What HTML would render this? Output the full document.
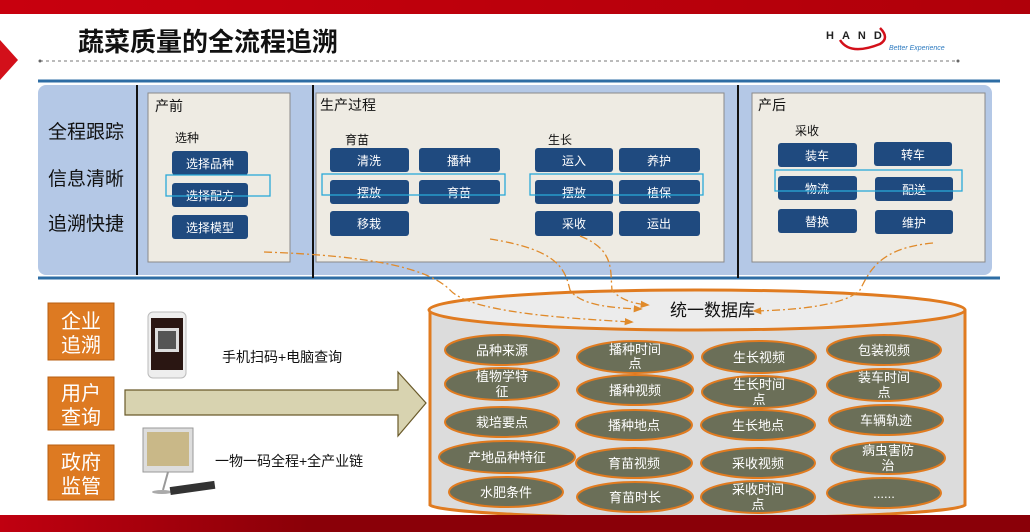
<!DOCTYPE html>
<html><head><meta charset="utf-8"><style>
body{margin:0;width:1030px;height:532px;overflow:hidden;background:#fff;font-family:"Liberation Sans","Noto Sans CJK SC",sans-serif;}
svg{display:block}
</style></head><body>
<svg width="1030" height="532" viewBox="0 0 1030 532" xmlns="http://www.w3.org/2000/svg" font-family="Liberation Sans, Noto Sans CJK SC, sans-serif">
<defs>
<linearGradient id="rt" x1="0" x2="1"><stop offset="0" stop-color="#c8000e"/><stop offset="1" stop-color="#b0000a"/></linearGradient>
<linearGradient id="rb" x1="0" x2="1"><stop offset="0" stop-color="#c00010"/><stop offset="0.3" stop-color="#8a0008"/><stop offset="1" stop-color="#8a0008"/></linearGradient>
<marker id="ar" viewBox="0 0 10 10" refX="8" refY="5" markerWidth="7" markerHeight="7" orient="auto"><path d="M0,1 L10,5 L0,9 z" fill="#e08a2a"/></marker>
</defs>
<rect x="0" y="0" width="1030" height="14" fill="url(#rt)"/>
<polygon points="0,40 18,60 0,80" fill="#d3101a"/>
<text x="78" y="51" font-size="26" font-weight="bold" fill="#111">蔬菜质量的全流程追溯</text>
<line x1="40" y1="61" x2="958" y2="61" stroke="#777" stroke-width="1" stroke-dasharray="3,3"/>
<circle cx="40" cy="61" r="1.5" fill="#666"/><circle cx="958" cy="61" r="1.5" fill="#666"/>
<text x="826" y="39" font-size="11" letter-spacing="8" fill="#222" font-weight="bold">HAND</text>
<path d="M840,40 Q850,56 880,44 Q890,38 880,28" fill="none" stroke="#d3101a" stroke-width="2.5"/>
<text x="889" y="50" font-size="7" fill="#2e7bc0" font-style="italic">Better Experience</text>

<line x1="38" y1="81" x2="1000" y2="81" stroke="#2e6da4" stroke-width="3"/>
<rect x="38" y="85" width="954" height="190" rx="8" fill="#b4c8e6"/>
<line x1="38" y1="278" x2="1000" y2="278" stroke="#2e6da4" stroke-width="3"/>
<line x1="137" y1="85" x2="137" y2="275" stroke="#111" stroke-width="2"/>
<line x1="313" y1="85" x2="313" y2="278" stroke="#111" stroke-width="2"/>
<line x1="738" y1="85" x2="738" y2="278" stroke="#111" stroke-width="2"/>
<g font-size="19" fill="#111">
<text x="48" y="138">全程跟踪</text><text x="48" y="185">信息清晰</text><text x="48" y="230">追溯快捷</text>
</g>
<g fill="#eeebe3" stroke="#8a8a8a" stroke-width="1">
<rect x="148" y="93" width="142" height="169"/>
<rect x="316" y="93" width="408" height="169"/>
<rect x="752" y="93" width="233" height="169"/>
</g>
<g font-size="14" fill="#111">
<text x="155" y="111">产前</text><text x="320" y="110">生产过程</text><text x="758" y="110">产后</text>
</g>
<g font-size="12" fill="#111">
<text x="175" y="142">选种</text><text x="345" y="144">育苗</text><text x="548" y="144">生长</text><text x="795" y="135">采收</text>
</g>
<g fill="#1f4a7f">
<rect x="172" y="151" width="76" height="24" rx="3"/><rect x="172" y="183" width="76" height="24" rx="3"/><rect x="172" y="215" width="76" height="24" rx="3"/>
<rect x="330" y="148" width="79" height="24" rx="3"/><rect x="419" y="148" width="81" height="24" rx="3"/>
<rect x="330" y="180" width="79" height="24" rx="3"/><rect x="419" y="180" width="81" height="24" rx="3"/>
<rect x="330" y="211" width="79" height="25" rx="3"/>
<rect x="535" y="148" width="78" height="24" rx="3"/><rect x="619" y="148" width="81" height="24" rx="3"/>
<rect x="535" y="180" width="78" height="24" rx="3"/><rect x="619" y="180" width="81" height="24" rx="3"/>
<rect x="535" y="211" width="78" height="25" rx="3"/><rect x="619" y="211" width="81" height="25" rx="3"/>
<rect x="778" y="143" width="79" height="24" rx="3"/><rect x="874" y="142" width="78" height="24" rx="3"/>
<rect x="778" y="176" width="79" height="24" rx="3"/><rect x="875" y="177" width="78" height="24" rx="3"/>
<rect x="778" y="209" width="79" height="24" rx="3"/><rect x="875" y="210" width="78" height="24" rx="3"/>
</g>
<g font-size="12" fill="#fff" text-anchor="middle">
<text x="210" y="168">选择品种</text><text x="210" y="200">选择配方</text><text x="210" y="232">选择模型</text>
<text x="369" y="165">清洗</text><text x="459" y="165">播种</text><text x="369" y="197">摆放</text><text x="459" y="197">育苗</text><text x="369" y="228">移栽</text>
<text x="574" y="165">运入</text><text x="659" y="165">养护</text><text x="574" y="197">摆放</text><text x="659" y="197">植保</text><text x="574" y="228">采收</text><text x="659" y="228">运出</text>
<text x="817" y="160">装车</text><text x="913" y="159">转车</text><text x="817" y="193">物流</text><text x="914" y="194">配送</text><text x="817" y="226">替换</text><text x="914" y="227">维护</text>
</g>
<g fill="none" stroke="#29a8d8" stroke-width="1.3">
<rect x="166" y="175" width="104" height="21"/><rect x="322" y="174" width="183" height="21"/><rect x="530" y="174" width="173" height="21"/><rect x="775" y="170" width="187" height="21"/>
</g>

<!-- cylinder -->
<path d="M430,310 L430,505 A268,14 0 0 0 965,505 L965,310" fill="#dcdcdc" stroke="#e07b20" stroke-width="3"/>
<ellipse cx="697" cy="310" rx="268" ry="20" fill="#ececec" stroke="#e07b20" stroke-width="3"/>
<text x="670" y="316" font-size="17" fill="#111">统一数据库</text>

<!-- dashed curves -->
<g fill="none" stroke="#e08a2a" stroke-width="1.3" stroke-dasharray="8,3,2,3" marker-end="url(#ar)">
<path d="M264,252 C380,256 430,270 450,290 C470,312 560,318 632,322"/>
<path d="M490,239 C560,250 565,270 570,290 C580,305 610,308 641,309"/>
<path d="M580,236 C615,250 610,270 612,290 C620,300 635,304 648,305"/>
<path d="M933,243 C880,248 870,270 860,290 C845,305 800,310 754,311"/>
</g>

<!-- ellipses -->
<g fill="#6b6f58" stroke="#e07b20" stroke-width="2">
<ellipse cx="502" cy="350" rx="57" ry="15"/><ellipse cx="502" cy="384" rx="57" ry="16"/><ellipse cx="502" cy="422" rx="57" ry="15"/><ellipse cx="507" cy="457" rx="68" ry="16"/><ellipse cx="506" cy="492" rx="57" ry="15"/>
<ellipse cx="635" cy="357" rx="58" ry="16"/><ellipse cx="635" cy="390" rx="58" ry="15"/><ellipse cx="634" cy="425" rx="58" ry="15"/><ellipse cx="634" cy="463" rx="58" ry="15"/><ellipse cx="635" cy="497" rx="58" ry="15"/>
<ellipse cx="759" cy="357" rx="57" ry="16"/><ellipse cx="759" cy="392" rx="57" ry="16"/><ellipse cx="758" cy="425" rx="57" ry="15"/><ellipse cx="758" cy="463" rx="57" ry="15"/><ellipse cx="758" cy="497" rx="57" ry="16"/>
<ellipse cx="884" cy="350" rx="57" ry="15"/><ellipse cx="884" cy="385" rx="57" ry="16"/><ellipse cx="886" cy="420" rx="57" ry="15"/><ellipse cx="888" cy="458" rx="57" ry="16"/><ellipse cx="884" cy="493" rx="57" ry="15"/>
</g>
<g font-size="13" fill="#fff" text-anchor="middle">
<text x="502" y="355">品种来源</text><text x="502" y="381">植物学特</text><text x="502" y="396">征</text><text x="502" y="427">栽培要点</text><text x="507" y="462">产地品种特征</text><text x="506" y="497">水肥条件</text>
<text x="635" y="354">播种时间</text><text x="635" y="368">点</text><text x="635" y="395">播种视频</text><text x="634" y="430">播种地点</text><text x="634" y="468">育苗视频</text><text x="635" y="502">育苗时长</text>
<text x="759" y="362">生长视频</text><text x="759" y="389">生长时间</text><text x="759" y="404">点</text><text x="758" y="430">生长地点</text><text x="758" y="468">采收视频</text><text x="758" y="494">采收时间</text><text x="758" y="509">点</text>
<text x="884" y="355">包装视频</text><text x="884" y="382">装车时间</text><text x="884" y="397">点</text><text x="886" y="425">车辆轨迹</text><text x="888" y="455">病虫害防</text><text x="888" y="470">治</text><text x="884" y="498">......</text>
</g>

<!-- left orange boxes -->
<g fill="#dd7a22" stroke="#b85f12" stroke-width="1">
<rect x="48" y="303" width="66" height="57"/><rect x="48" y="377" width="66" height="53"/><rect x="48" y="445" width="66" height="55"/>
</g>
<g font-size="20" fill="#fff" text-anchor="middle">
<text x="81" y="328">企业</text><text x="81" y="352">追溯</text>
<text x="81" y="400">用户</text><text x="81" y="424">查询</text>
<text x="81" y="469">政府</text><text x="81" y="493">监管</text>
</g>
<!-- phone -->
<rect x="148" y="312" width="38" height="66" rx="5" fill="#eee" stroke="#bbb"/>
<rect x="151" y="318" width="32" height="52" fill="#2a1612"/>
<rect x="155" y="328" width="24" height="24" fill="#ddd"/>
<rect x="158" y="331" width="18" height="18" fill="#555"/>
<text x="222" y="362" font-size="14" fill="#111">手机扫码+电脑查询</text>
<!-- computer -->
<rect x="143" y="428" width="50" height="44" fill="#ddd" stroke="#999"/>
<rect x="147" y="432" width="42" height="34" fill="#c9b888"/>
<line x1="168" y1="472" x2="163" y2="490" stroke="#999" stroke-width="2"/>
<ellipse cx="162" cy="492" rx="10" ry="2" fill="#aaa"/>
<rect x="170" y="484" width="45" height="8" fill="#333" transform="rotate(-8 192 488)"/>
<text x="215" y="466" font-size="14" fill="#111">一物一码全程+全产业链</text>
<!-- big arrow -->
<path d="M125,390 L398,390 L398,372 L426,403 L398,436 L398,415 L125,415 Z" fill="#d8d3b0" stroke="#6a5a2a" stroke-width="1.2"/>

<rect x="0" y="515" width="1030" height="17" fill="url(#rb)"/>
</svg>
</body></html>
